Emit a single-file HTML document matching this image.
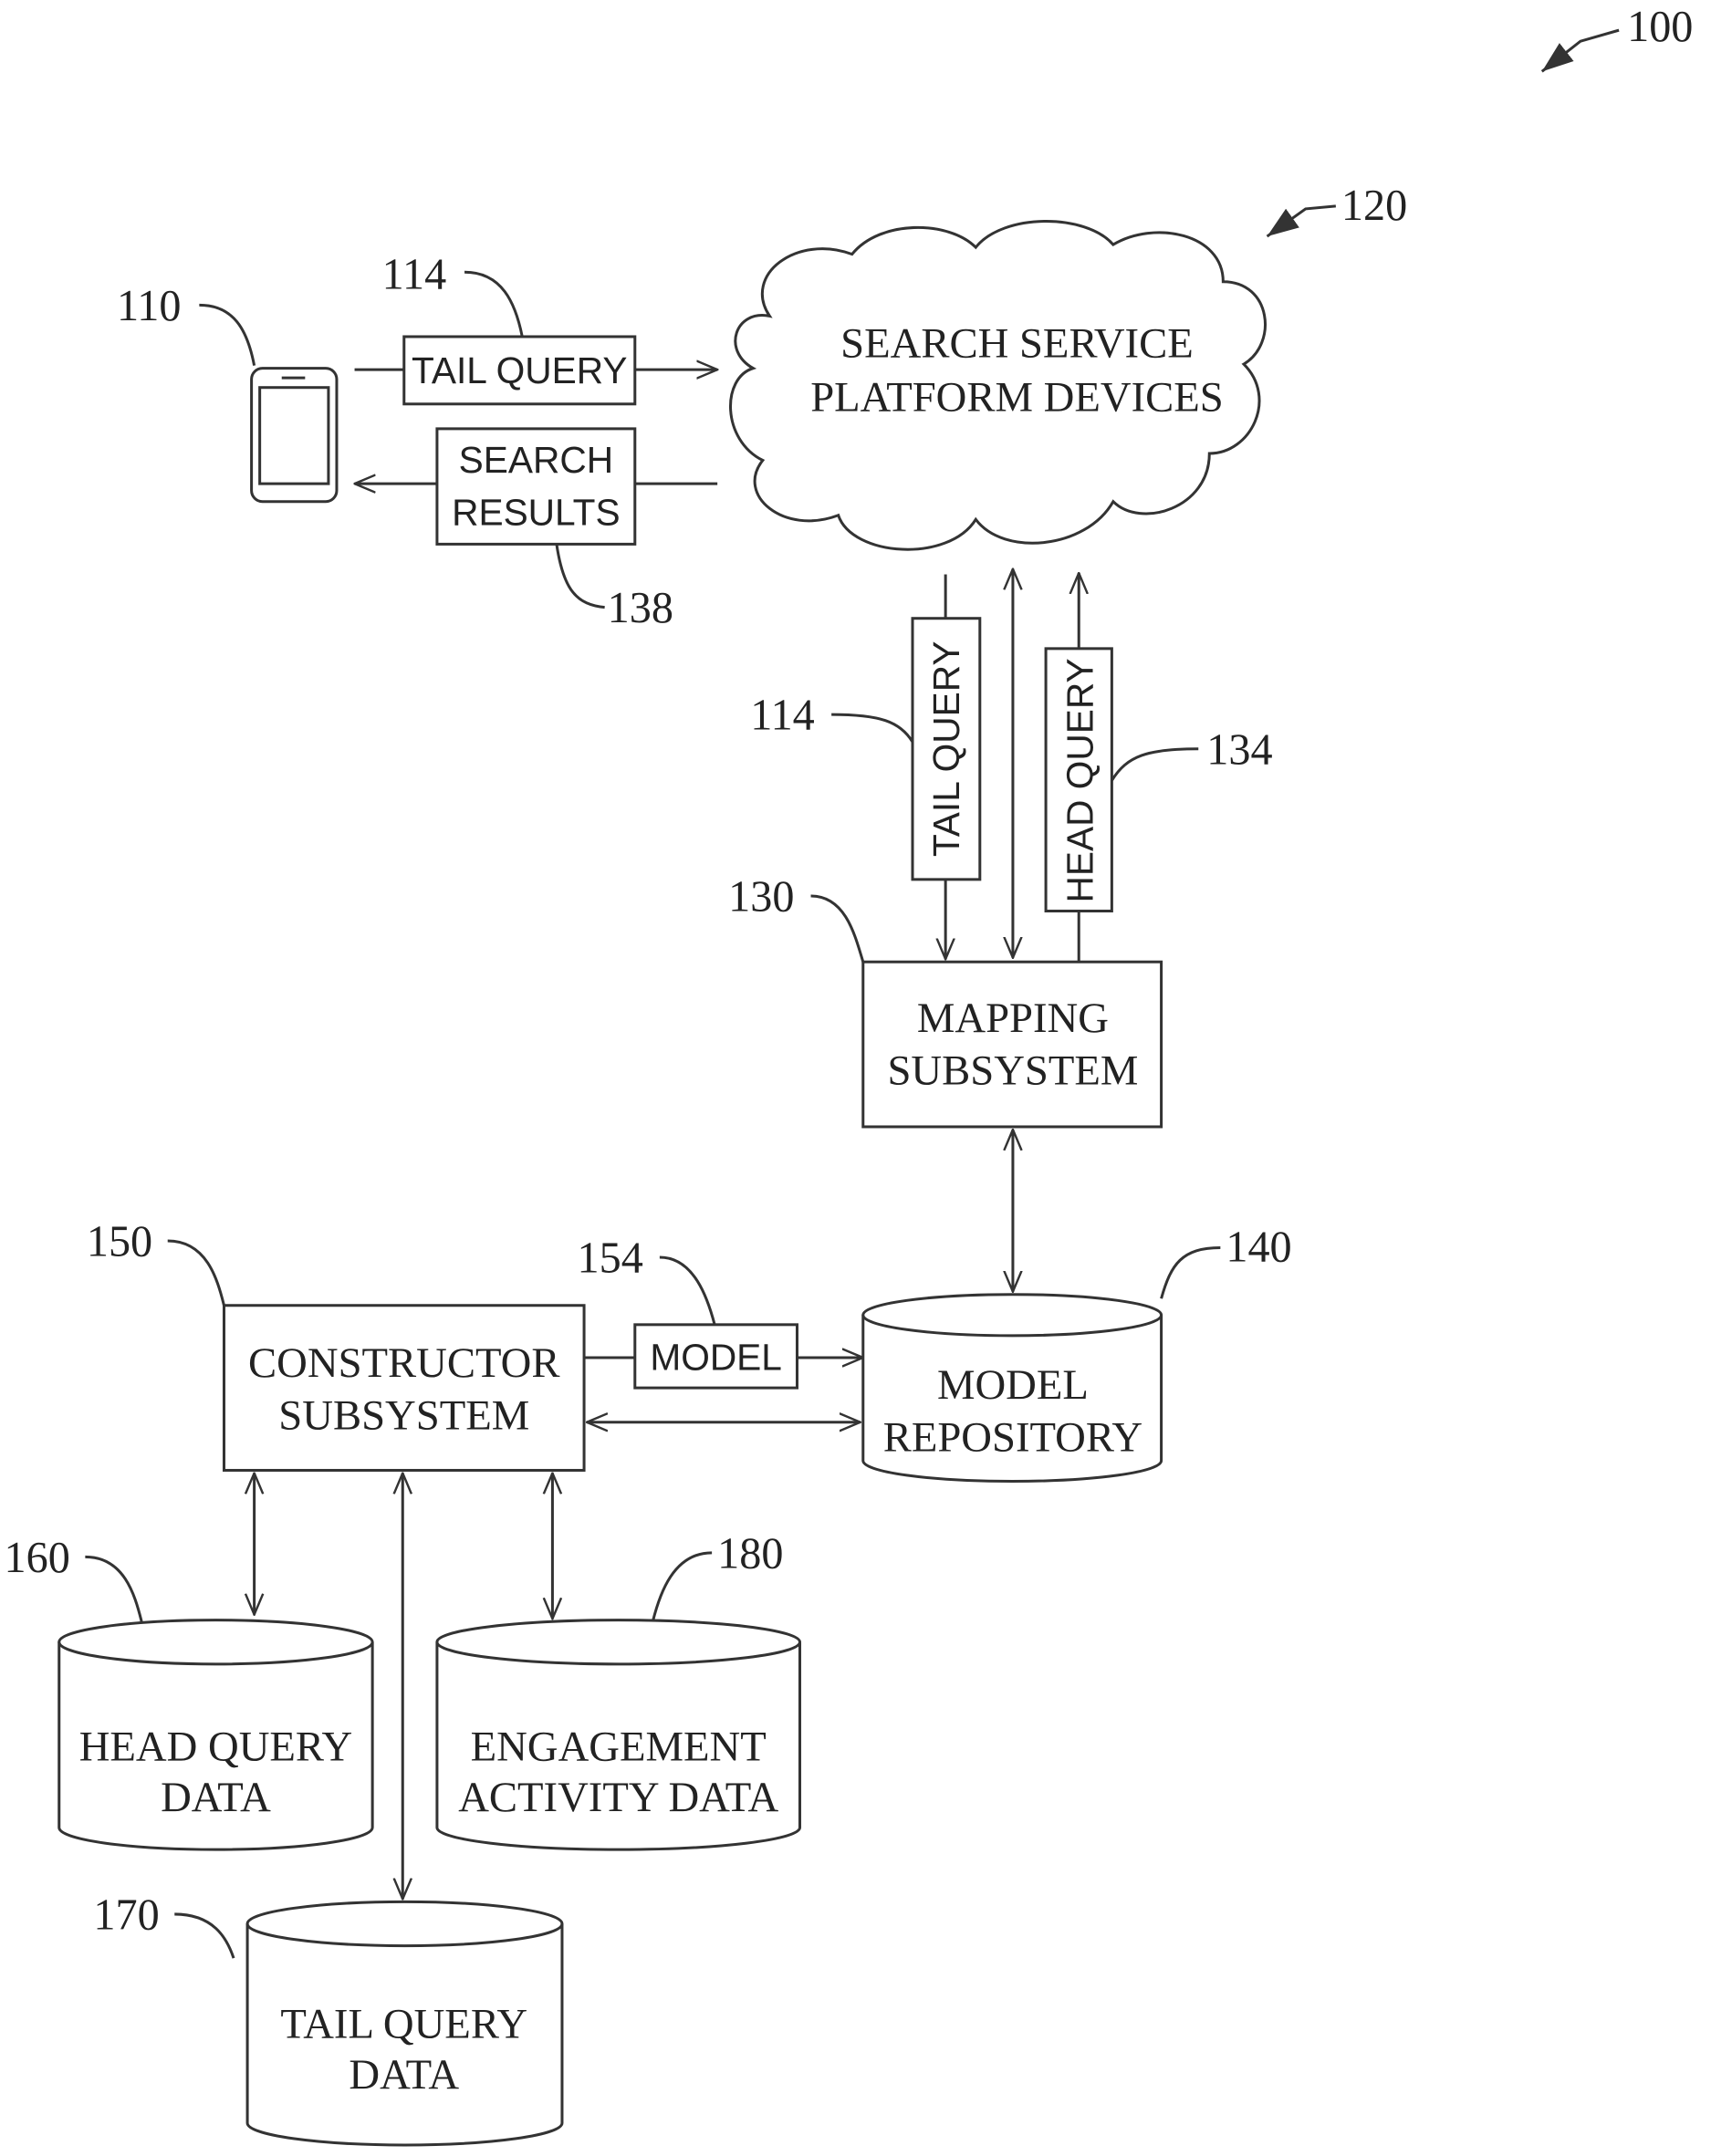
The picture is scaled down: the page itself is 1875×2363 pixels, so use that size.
<!DOCTYPE html>
<html><head><meta charset="utf-8"><style>
html,body{margin:0;padding:0;background:#fff;}
svg{display:block;}
.s{font-family:"Liberation Serif",serif;font-size:31px;fill:#222;}
.n{font-family:"Liberation Serif",serif;font-size:32px;fill:#222;}
.a{font-family:"Liberation Sans",sans-serif;font-size:27px;fill:#222;}
</style></head><body>
<svg width="1875" height="2363" viewBox="0 0 1245 1569" preserveAspectRatio="none" xmlns="http://www.w3.org/2000/svg">
<defs>
<marker id="ar" viewBox="0 0 20 20" refX="19" refY="10" markerWidth="16" markerHeight="16" markerUnits="userSpaceOnUse" orient="auto-start-reverse">
<path d="M0,2 L19,10 L0,18" fill="none" stroke="#333" stroke-width="2"/></marker>
<marker id="af" viewBox="0 0 20 20" refX="19" refY="10" markerWidth="24" markerHeight="24" markerUnits="userSpaceOnUse" orient="auto">
<path d="M0,3 L19,10 L0,17 z" fill="#333"/></marker>
</defs>
<g stroke="#333" stroke-width="2" fill="none">
<path d="M1178,22 L1150,30 L1122,52" marker-end="url(#af)"/>
<path d="M972,150 L950,152 L922,172" marker-end="url(#af)"/>
<path d="M560,230 C540,200 580,170 620,185 C640,160 690,160 710,180 C730,155 790,155 810,178 C840,160 890,170 890,205 C925,205 930,250 905,265 C930,290 910,330 880,330 C880,370 830,385 810,365 C790,400 730,405 710,378 C690,410 620,405 610,375 C570,390 535,360 555,335 C525,320 525,275 548,268 C525,255 535,225 560,230 Z"/>
<rect x="183" y="268" width="62" height="97" rx="8"/>
<rect x="189" y="282" width="50" height="70"/>
<line x1="205" y1="275" x2="222" y2="275"/>
<line x1="258" y1="269" x2="294" y2="269"/>
<rect x="294" y="245" width="168" height="49"/>
<line x1="462" y1="269" x2="522" y2="269" marker-end="url(#ar)"/>
<line x1="522" y1="352" x2="462" y2="352"/>
<rect x="318" y="312" width="144" height="84"/>
<line x1="318" y1="352" x2="258" y2="352" marker-end="url(#ar)"/>
<path d="M145,222 C170,222 180,240 185,266"/>
<path d="M338,198 C365,198 375,220 380,245"/>
<path d="M405,396 C410,430 420,440 440,442"/>
<path d="M605,520 C640,520 655,525 664,540"/>
<path d="M809,568 C820,550 835,545 872,545"/>
<path d="M590,652 C615,652 622,680 628,700"/>
<path d="M845,945 C852,920 860,908 888,908"/>
<path d="M122,903 C150,903 158,930 163,950"/>
<path d="M480,915 C505,915 515,945 520,964"/>
<path d="M62,1133 C90,1133 98,1160 103,1180"/>
<path d="M518,1130 C490,1130 480,1160 475,1180"/>
<path d="M127,1393 C155,1393 165,1410 170,1425"/>
<line x1="688" y1="418" x2="688" y2="450"/>
<rect x="664" y="450" width="49" height="190"/>
<line x1="688" y1="640" x2="688" y2="698" marker-end="url(#ar)"/>
<line x1="737" y1="414" x2="737" y2="697" marker-start="url(#ar)" marker-end="url(#ar)"/>
<line x1="785" y1="700" x2="785" y2="663"/>
<rect x="761" y="472" width="48" height="191"/>
<line x1="785" y1="472" x2="785" y2="417" marker-end="url(#ar)"/>
<rect x="628" y="700" width="217" height="120"/>
<line x1="737" y1="822" x2="737" y2="940" marker-start="url(#ar)" marker-end="url(#ar)"/>
<path d="M628,957 A108.5,15 0 0 1 845,957 L845,1063 A108.5,15 0 0 1 628,1063 Z"/>
<path d="M628,957 A108.5,15 0 0 0 845,957"/>
<rect x="163" y="950" width="262" height="120"/>
<line x1="425" y1="988" x2="462" y2="988"/>
<rect x="462" y="964" width="118" height="46"/>
<line x1="580" y1="988" x2="628" y2="988" marker-end="url(#ar)"/>
<line x1="427" y1="1035" x2="626" y2="1035" marker-start="url(#ar)" marker-end="url(#ar)"/>
<line x1="185" y1="1072" x2="185" y2="1175" marker-start="url(#ar)" marker-end="url(#ar)"/>
<line x1="293" y1="1072" x2="293" y2="1382" marker-start="url(#ar)" marker-end="url(#ar)"/>
<line x1="402" y1="1072" x2="402" y2="1178" marker-start="url(#ar)" marker-end="url(#ar)"/>
<path d="M43,1195 A114,16 0 0 1 271,1195 L271,1330 A114,16 0 0 1 43,1330 Z"/>
<path d="M43,1195 A114,16 0 0 0 271,1195"/>
<path d="M318,1195 A132,16 0 0 1 582,1195 L582,1330 A132,16 0 0 1 318,1330 Z"/>
<path d="M318,1195 A132,16 0 0 0 582,1195"/>
<path d="M180,1400 A114.5,16 0 0 1 409,1400 L409,1545 A114.5,16 0 0 1 180,1545 Z"/>
<path d="M180,1400 A114.5,16 0 0 0 409,1400"/>
</g>
<g text-anchor="middle">
<text class="s" x="740" y="260">SEARCH SERVICE</text>
<text class="s" x="740" y="299">PLATFORM DEVICES</text>
<text class="a" x="378" y="279">TAIL QUERY</text>
<text class="a" x="390" y="344">SEARCH</text>
<text class="a" x="390" y="382">RESULTS</text>
<text class="a" transform="translate(698,545) rotate(-90)">TAIL QUERY</text>
<text class="a" transform="translate(795,568) rotate(-90)">HEAD QUERY</text>
<text class="s" x="737" y="751">MAPPING</text>
<text class="s" x="737" y="789">SUBSYSTEM</text>
<text class="s" x="737" y="1018">MODEL</text>
<text class="s" x="737" y="1056">REPOSITORY</text>
<text class="s" x="294" y="1002">CONSTRUCTOR</text>
<text class="s" x="294" y="1040">SUBSYSTEM</text>
<text class="a" x="521" y="997">MODEL</text>
<text class="s" x="157" y="1281">HEAD QUERY</text>
<text class="s" x="157" y="1318">DATA</text>
<text class="s" x="450" y="1281">ENGAGEMENT</text>
<text class="s" x="450" y="1318">ACTIVITY DATA</text>
<text class="s" x="294" y="1483">TAIL QUERY</text>
<text class="s" x="294" y="1520">DATA</text>
</g>
<g>
<text class="n" x="1184" y="30">100</text>
<text class="n" x="976" y="160">120</text>
<text class="n" x="85" y="233">110</text>
<text class="n" x="278" y="210">114</text>
<text class="n" x="442" y="453">138</text>
<text class="n" x="546" y="531">114</text>
<text class="n" x="878" y="556">134</text>
<text class="n" x="530" y="663">130</text>
<text class="n" x="892" y="918">140</text>
<text class="n" x="63" y="914">150</text>
<text class="n" x="420" y="926">154</text>
<text class="n" x="3" y="1144">160</text>
<text class="n" x="522" y="1141">180</text>
<text class="n" x="68" y="1404">170</text>
</g>
</svg>
</body></html>
